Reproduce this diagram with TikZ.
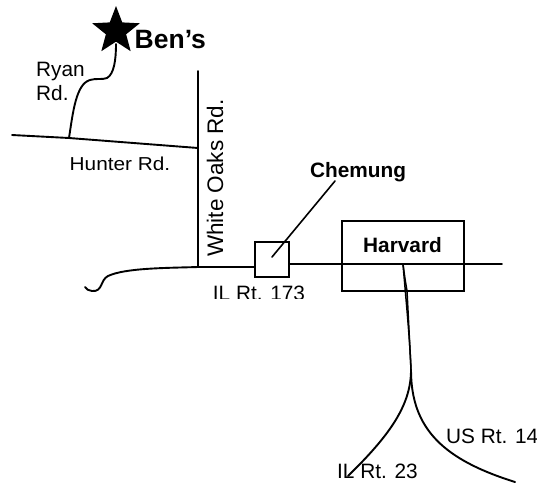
\documentclass[tikz,border=0pt]{standalone}
\usepackage{fontspec}
\setmainfont{Liberation Sans}
\usetikzlibrary{shapes.geometric}
\tikzset{
  road/.style={line width=1.9pt,line cap=round,line join=round},
  roadthin/.style={line width=1.5pt,line cap=round},
  townbox/.style={draw=black,line width=2pt,inner sep=0pt},
  lbl/.style={inner sep=0pt,font=\fontsize{20.8}{24}\selectfont,align=left},
  blbl/.style={inner sep=0pt,font=\fontsize{20.8}{24}\selectfont\bfseries},
}
\begin{document}
\begin{tikzpicture}[x=1pt,y=-1pt]
\useasboundingbox (0,0) rectangle (537,483);
\coordinate (hw) at (12,135);
\coordinate (hry) at (69,138);
\coordinate (he) at (198,148);
\coordinate (wn) at (198,71);
\coordinate (ws) at (198,267);
\coordinate (ihe) at (502,264);
\coordinate (hsplit) at (403,264);
\coordinate (pinch) at (407,291);
\coordinate (fork) at (411,370);
\coordinate (il) at (348,476);
\coordinate (us) at (515,482);
\coordinate (lead) at (335,181);
\coordinate (tail) at (85,287);
\node[star,star points=5,star point ratio=2.35,fill=black,minimum size=50pt,inner sep=0pt] (star) at (116,31) {};
\node[townbox,minimum width=34pt,minimum height=35pt] (chem) at (272,259.5) {};
\node[townbox,minimum width=122pt,minimum height=70pt] (harv) at (403,256) {};
\draw[road] (hw) -- (hry) -- (he);
\draw[road] (wn) -- (ws);
\draw[road] (hry) .. controls (73,112) and (76,84) .. (90,80) .. controls (96,78) and (102,80) .. (107,78) .. controls (114,74) and (116,60) .. (116,44);
\draw[road] (ws) -- (chem.west|-ws);
\draw[road] (ws) .. controls (165,268) and (125,268) .. (108,276) .. controls (100,280) and (103,292) .. (92,291) .. controls (89,291) and (86,289) .. (tail);
\draw[road] (chem.east|-ihe) -- (ihe);
\draw[roadthin] (hsplit) .. controls (405,280) and (406,285) .. (pinch) -- (fork);
\draw[roadthin] (hsplit) .. controls (406,300) and (410,340) .. (fork);
\draw[road] (fork) .. controls (411,405) and (390,435) .. (il);
\draw[road] (fork) .. controls (411,430) and (445,460) .. (us);
\draw[road,line width=1.6pt] (272,257) -- (lead);
\node[inner sep=0pt,font=\fontsize{26.5}{30}\selectfont\bfseries,anchor=base west] (bens) at (134.5,48) {Ben’s};
\node[lbl,anchor=base west] (ryan) at (36,76) {Ryan};
\node[lbl,anchor=base west] (rd) at (36,100) {Rd.};
\node[lbl,anchor=base west,yscale=0.9] (hunter) at (69.5,170) {Hunter Rd.};
\node[inner sep=0pt,font=\fontsize{22.5}{26}\selectfont,rotate=90,anchor=base west] (white) at (223,257) {White Oaks Rd.};
\node[blbl,anchor=base west] (chl) at (310,177) {Chemung};
\node[blbl,anchor=base] (hl) at (402.5,252.5) {Harvard};
\begin{scope}
\clip (200,280) rectangle (320,298.5);
\node[lbl,anchor=base] (il173) at (259,300) {IL Rt. 173};
\end{scope}
\node[lbl,anchor=base west] (us14) at (446,443) {US Rt. 14};
\node[lbl,anchor=base west] (il23) at (337,478) {IL Rt. 23};
\end{tikzpicture}
\end{document}
